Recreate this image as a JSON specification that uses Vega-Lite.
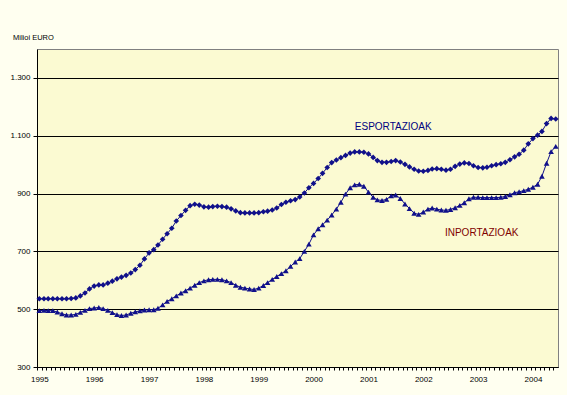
{
  "$schema": "https://vega.github.io/schema/vega-lite/v6.json",
  "width": 521,
  "height": 318,
  "autosize": "none",
  "padding": {"left": 37, "top": 49, "right": 9, "bottom": 28},
  "background": "#FFFFF0",
  "config": {
    "view": {"fill": "#FBFAD2", "stroke": "#808080", "strokeWidth": 1},
    "font": "Liberation Sans"
  },
  "title": {"text": "Milioi EURO", "anchor": "start", "frame": "group", "dx": -24, "offset": 2, "baseline": "alphabetic", "fontSize": 7.5, "fontWeight": "normal", "color": "#000000", "font": "Liberation Sans"},
  "data": {"values": [
    {"m":"1995-01-01","e":536,"i":495},{"m":"1995-02-01","e":536,"i":496},{"m":"1995-03-01","e":536,"i":495},{"m":"1995-04-01","e":536,"i":495},{"m":"1995-05-01","e":536,"i":490},{"m":"1995-06-01","e":536,"i":484},{"m":"1995-07-01","e":536,"i":480},{"m":"1995-08-01","e":537,"i":480},{"m":"1995-09-01","e":539,"i":482},{"m":"1995-10-01","e":546,"i":489},{"m":"1995-11-01","e":556,"i":496},{"m":"1995-12-01","e":570,"i":502},
    {"m":"1996-01-01","e":580,"i":504},{"m":"1996-02-01","e":584,"i":506},{"m":"1996-03-01","e":584,"i":502},{"m":"1996-04-01","e":590,"i":496},{"m":"1996-05-01","e":597,"i":488},{"m":"1996-06-01","e":605,"i":481},{"m":"1996-07-01","e":611,"i":478},{"m":"1996-08-01","e":617,"i":480},{"m":"1996-09-01","e":625,"i":486},{"m":"1996-10-01","e":637,"i":491},{"m":"1996-11-01","e":652,"i":494},{"m":"1996-12-01","e":674,"i":497},
    {"m":"1997-01-01","e":695,"i":498},{"m":"1997-02-01","e":706,"i":498},{"m":"1997-03-01","e":722,"i":503},{"m":"1997-04-01","e":742,"i":515},{"m":"1997-05-01","e":761,"i":527},{"m":"1997-06-01","e":780,"i":536},{"m":"1997-07-01","e":805,"i":546},{"m":"1997-08-01","e":824,"i":556},{"m":"1997-09-01","e":842,"i":564},{"m":"1997-10-01","e":858,"i":573},{"m":"1997-11-01","e":863,"i":583},{"m":"1997-12-01","e":860,"i":592},
    {"m":"1998-01-01","e":854,"i":598},{"m":"1998-02-01","e":853,"i":602},{"m":"1998-03-01","e":855,"i":603},{"m":"1998-04-01","e":856,"i":603},{"m":"1998-05-01","e":855,"i":602},{"m":"1998-06-01","e":853,"i":598},{"m":"1998-07-01","e":847,"i":592},{"m":"1998-08-01","e":840,"i":583},{"m":"1998-09-01","e":834,"i":576},{"m":"1998-10-01","e":833,"i":573},{"m":"1998-11-01","e":833,"i":570},{"m":"1998-12-01","e":833,"i":568},
    {"m":"1999-01-01","e":834,"i":573},{"m":"1999-02-01","e":837,"i":582},{"m":"1999-03-01","e":839,"i":592},{"m":"1999-04-01","e":843,"i":603},{"m":"1999-05-01","e":850,"i":613},{"m":"1999-06-01","e":862,"i":623},{"m":"1999-07-01","e":870,"i":633},{"m":"1999-08-01","e":875,"i":648},{"m":"1999-09-01","e":879,"i":663},{"m":"1999-10-01","e":888,"i":675},{"m":"1999-11-01","e":902,"i":700},{"m":"1999-12-01","e":920,"i":725},
    {"m":"2000-01-01","e":935,"i":757},{"m":"2000-02-01","e":952,"i":778},{"m":"2000-03-01","e":970,"i":792},{"m":"2000-04-01","e":990,"i":808},{"m":"2000-05-01","e":1007,"i":826},{"m":"2000-06-01","e":1016,"i":846},{"m":"2000-07-01","e":1024,"i":870},{"m":"2000-08-01","e":1032,"i":898},{"m":"2000-09-01","e":1040,"i":920},{"m":"2000-10-01","e":1044,"i":930},{"m":"2000-11-01","e":1044,"i":932},{"m":"2000-12-01","e":1043,"i":925},
    {"m":"2001-01-01","e":1037,"i":905},{"m":"2001-02-01","e":1025,"i":887},{"m":"2001-03-01","e":1014,"i":878},{"m":"2001-04-01","e":1008,"i":876},{"m":"2001-05-01","e":1008,"i":880},{"m":"2001-06-01","e":1011,"i":892},{"m":"2001-07-01","e":1014,"i":895},{"m":"2001-08-01","e":1009,"i":883},{"m":"2001-09-01","e":1001,"i":864},{"m":"2001-10-01","e":992,"i":848},{"m":"2001-11-01","e":984,"i":832},{"m":"2001-12-01","e":978,"i":828},
    {"m":"2002-01-01","e":977,"i":836},{"m":"2002-02-01","e":980,"i":846},{"m":"2002-03-01","e":985,"i":850},{"m":"2002-04-01","e":986,"i":846},{"m":"2002-05-01","e":984,"i":843},{"m":"2002-06-01","e":981,"i":842},{"m":"2002-07-01","e":984,"i":845},{"m":"2002-08-01","e":994,"i":851},{"m":"2002-09-01","e":1002,"i":859},{"m":"2002-10-01","e":1006,"i":868},{"m":"2002-11-01","e":1004,"i":882},{"m":"2002-12-01","e":996,"i":887},
    {"m":"2003-01-01","e":990,"i":887},{"m":"2003-02-01","e":989,"i":886},{"m":"2003-03-01","e":991,"i":886},{"m":"2003-04-01","e":996,"i":886},{"m":"2003-05-01","e":1000,"i":886},{"m":"2003-06-01","e":1003,"i":887},{"m":"2003-07-01","e":1008,"i":890},{"m":"2003-08-01","e":1017,"i":896},{"m":"2003-09-01","e":1027,"i":903},{"m":"2003-10-01","e":1036,"i":906},{"m":"2003-11-01","e":1050,"i":910},{"m":"2003-12-01","e":1072,"i":915},
    {"m":"2004-01-01","e":1090,"i":922},{"m":"2004-02-01","e":1102,"i":932},{"m":"2004-03-01","e":1115,"i":960},{"m":"2004-04-01","e":1142,"i":1005},{"m":"2004-05-01","e":1160,"i":1045},{"m":"2004-06-01","e":1158,"i":1063}
  ]},
  "encoding": {
    "x": {
      "field": "m",
      "type": "temporal",
      "title": null,
      "scale": {"type": "utc", "domain": [{"year": 1994, "month": 12, "date": 16, "hours": 12, "utc": true}, {"year": 2004, "month": 6, "date": 16, "utc": true}]},
      "axis": {
        "tickCount": {"interval": "month", "step": 1},
        "labelExpr": "utcmonth(datum.value)==0 ? utcFormat(datum.value,'%Y') : ''",
        "tickOffset": -2.28,
        "labelOffset": 2.28,
        "labelAngle": 0,
        "labelOverlap": false,
        "labelFlush": false,
        "labelBound": false,
        "labelFontSize": 8,
        "labelFont": "Liberation Sans",
        "labelColor": "#000000",
        "tickColor": "#000000",
        "tickSize": 3,
        "domainColor": "#000000",
        "labelPadding": 5,
        "grid": false
      }
    }
  },
  "layer": [
    {
      "mark": {"type": "line", "color": "#10108A", "strokeWidth": 1},
      "encoding": {
        "y": {
          "field": "e",
          "type": "quantitative",
          "title": null,
          "scale": {"domain": [300, 1400], "nice": false, "zero": false},
          "axis": {
            "values": [300, 500, 700, 900, 1100, 1300],
            "labelExpr": "replace(format(datum.value, ','), ',', '.')",
            "grid": true,
            "gridColor": "#000000",
            "gridOpacity": 1,
            "gridWidth": 1,
            "domainColor": "#000000",
            "tickColor": "#000000",
            "tickSize": 4,
            "labelPadding": 3,
            "labelFontSize": 8,
            "labelFont": "Liberation Sans",
            "labelColor": "#000000"
          }
        }
      }
    },
    {
      "mark": {"type": "point", "shape": "diamond", "filled": true, "size": 32, "color": "#10108A", "opacity": 1},
      "encoding": {"y": {"field": "e", "type": "quantitative", "title": null}}
    },
    {
      "mark": {"type": "line", "color": "#10108A", "strokeWidth": 1},
      "encoding": {"y": {"field": "i", "type": "quantitative", "title": null}}
    },
    {
      "mark": {"type": "point", "shape": "triangle-up", "filled": true, "size": 32, "color": "#10108A", "opacity": 1},
      "encoding": {"y": {"field": "i", "type": "quantitative", "title": null}}
    },
    {
      "data": {"values": [{"m": "2001-06-15", "v": 1131, "t": "ESPORTAZIOAK"}]},
      "mark": {"type": "text", "color": "#000080", "fontSize": 10, "font": "Liberation Sans", "align": "center", "baseline": "middle"},
      "encoding": {"y": {"field": "v", "type": "quantitative", "title": null}, "text": {"field": "t"}}
    },
    {
      "data": {"values": [{"m": "2003-01-25", "v": 762, "t": "INPORTAZIOAK"}]},
      "mark": {"type": "text", "color": "#800000", "fontSize": 10, "font": "Liberation Sans", "align": "center", "baseline": "middle"},
      "encoding": {"y": {"field": "v", "type": "quantitative", "title": null}, "text": {"field": "t"}}
    }
  ]
}
